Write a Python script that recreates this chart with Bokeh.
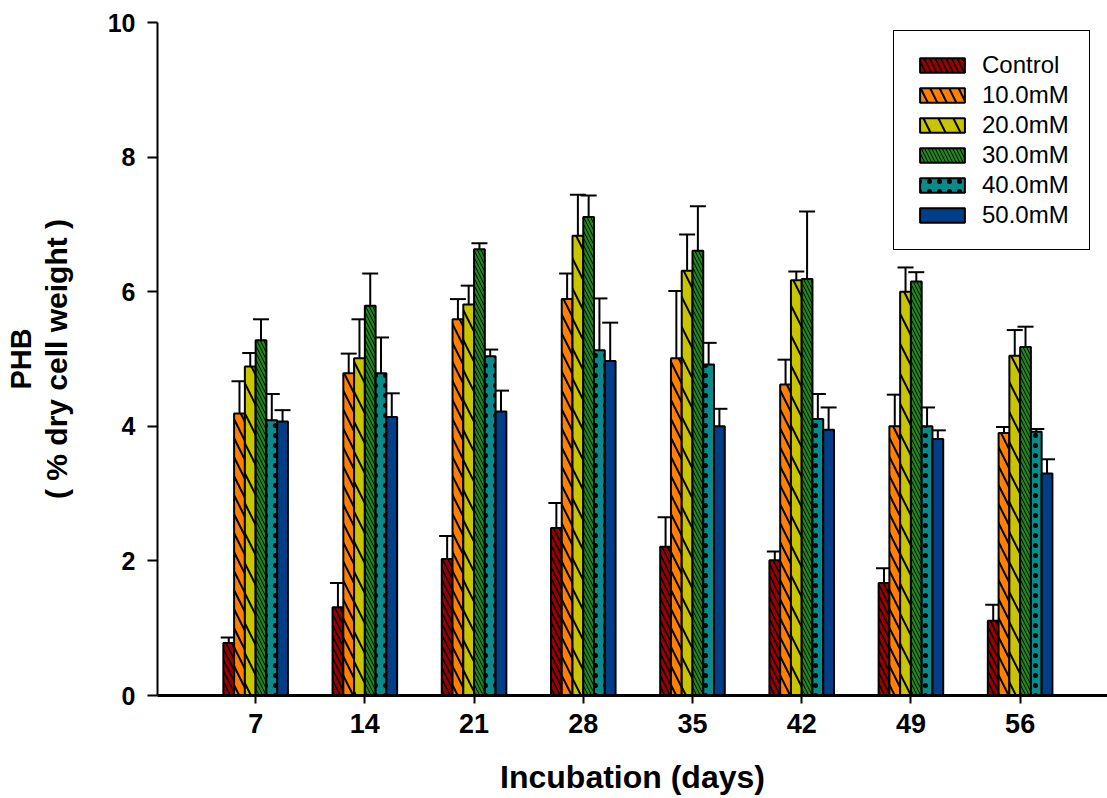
import numpy as np
from bokeh.plotting import figure
from bokeh.models import (ColumnDataSource, Whisker, TeeHead, Legend, LegendItem,
                          Title, FixedTicker, Range1d)
from bokeh.transform import dodge
from bokeh.embed import file_html
from bokeh.resources import INLINE

# ---------------- data ----------------
days = [7, 14, 21, 28, 35, 42, 49, 56]
series_names = ["Control", "10.0mM", "20.0mM", "30.0mM", "40.0mM", "50.0mM"]

control = [0.78, 1.31, 2.03, 2.49, 2.21, 2.01, 1.67, 1.11]
control_err = [0.08, 0.36, 0.34, 0.37, 0.44, 0.13, 0.22, 0.24]
mM10 = [4.19, 4.79, 5.59, 5.89, 5.01, 4.62, 4.00, 3.90]
mM10_err = [0.48, 0.29, 0.30, 0.38, 1.00, 0.37, 0.47, 0.09]
mM20 = [4.89, 5.01, 5.81, 6.83, 6.31, 6.17, 6.00, 5.05]
mM20_err = [0.20, 0.58, 0.28, 0.61, 0.54, 0.13, 0.36, 0.38]
mM30 = [5.28, 5.79, 6.63, 7.11, 6.61, 6.19, 6.15, 5.18]
mM30_err = [0.31, 0.48, 0.09, 0.32, 0.66, 1.00, 0.14, 0.30]
mM40 = [4.09, 4.79, 5.04, 5.13, 4.92, 4.11, 4.00, 3.92]
mM40_err = [0.39, 0.53, 0.10, 0.77, 0.32, 0.37, 0.28, 0.04]
mM50 = [4.07, 4.14, 4.22, 4.97, 4.00, 3.95, 3.81, 3.30]
mM50_err = [0.17, 0.35, 0.31, 0.57, 0.26, 0.33, 0.13, 0.21]

y_ticks = [0, 2, 4, 6, 8, 10]

values = [control, mM10, mM20, mM30, mM40, mM50]
errors = [control_err, mM10_err, mM20_err, mM30_err, mM40_err, mM50_err]

# ---------------- styles ----------------
colors = ["#990000", "#FF8000", "#C8C400", "#1E8A1E", "#0A8A8A", "#003F87"]
hatches = ["\\", "\\", "\\", "\\", ".", " "]
hatch_scales = [11, 19, 30, 7, 10, 12]
hatch_weights = [1.5, 2.0, 2.0, 1.0, 0.5, 1.0]
bar_w = 0.69

FONT = "Liberation Sans"

p = figure(width=1107, height=798, output_backend="svg", toolbar_location=None,
           x_range=Range1d(0.71, 61.6), y_range=Range1d(0, 10),
           min_border_left=157, min_border_right=0, min_border_top=22,
           min_border_bottom=103)

p.outline_line_color = None
p.xgrid.grid_line_color = None
p.ygrid.grid_line_color = None

items = []
for i, (name, vals, errs) in enumerate(zip(series_names, values, errors)):
    src = ColumnDataSource(dict(
        day=days, val=vals,
        upper=[v + e for v, e in zip(vals, errs)],
    ))
    off = (i - 2.5) * bar_w
    w = Whisker(source=src, base=dodge("day", off), lower="val", upper="upper",
                dimension="height", line_color="black", line_width=2,
                lower_head=None,
                upper_head=TeeHead(size=16, line_color="black", line_width=2))
    p.add_layout(w)
    r = p.vbar(x=dodge("day", off), top="val", bottom=0, width=bar_w, source=src,
               fill_color=colors[i], line_color="black", line_width=2,
               hatch_pattern=hatches[i], hatch_color="black",
               hatch_scale=hatch_scales[i], hatch_weight=hatch_weights[i])
    items.append(LegendItem(label=name, renderers=[r]))

legend = Legend(items=items, location=(736, 445), margin=0,
                border_line_color="black", border_line_width=1.5,
                border_line_alpha=1.0,
                background_fill_color="white", background_fill_alpha=1,
                label_text_font=FONT, label_text_font_size="24px",
                label_text_color="black",
                glyph_width=56, glyph_height=18, label_height=20,
                spacing=2, padding=20, label_standoff=12)
p.add_layout(legend)

# axes
p.xaxis.ticker = FixedTicker(ticks=days)
p.yaxis.ticker = FixedTicker(ticks=y_ticks)
for ax in (p.xaxis, p.yaxis):
    ax.axis_line_color = "black"
    ax.major_tick_line_color = "black"
    ax.major_tick_line_width = 2
    ax.minor_tick_line_color = None
    ax.major_tick_in = 0
    ax.major_label_text_font = FONT
    ax.major_label_text_font_style = "bold"
    ax.major_label_text_color = "black"
    ax.axis_label_text_font = FONT
    ax.axis_label_text_font_style = "bold"
    ax.axis_label_text_color = "black"

p.xaxis.axis_line_width = 3
p.yaxis.axis_line_width = 2
p.xaxis.major_tick_out = 8
p.yaxis.major_tick_out = 10
p.xaxis.major_label_text_font_size = "27px"
p.yaxis.major_label_text_font_size = "25px"
p.xaxis.major_label_standoff = 10
p.yaxis.major_label_standoff = 12

p.xaxis.axis_label = "Incubation (days)"
p.xaxis.axis_label_text_font_size = "32px"
p.xaxis.axis_label_standoff = 23

p.yaxis.axis_label = "( % dry cell weight )"
p.yaxis.axis_label_text_font_size = "30px"
p.yaxis.axis_label_standoff = 32

t = Title(text="PHB", align="center", text_font=FONT, text_font_size="29px",
          text_font_style="bold", text_color="black", standoff=0)
p.add_layout(t, "left")

open("out.html", "w").write(file_html(p, INLINE))
